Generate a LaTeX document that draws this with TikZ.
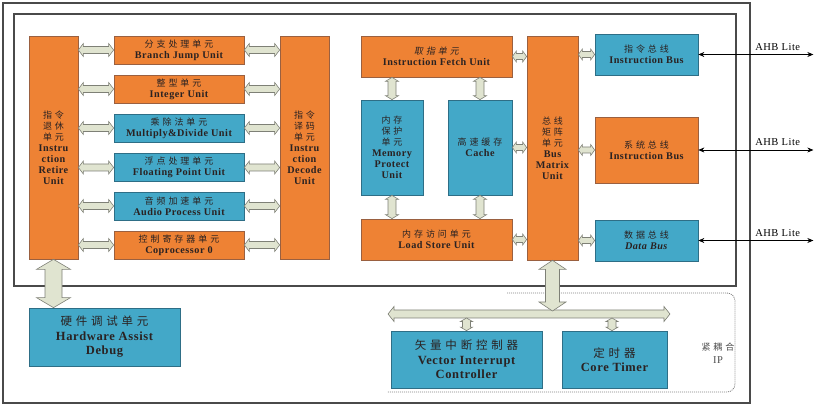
\documentclass[tikz,border=0pt]{standalone}
\usepackage{fontspec}
\setmainfont[LetterSpace=5]{Liberation Serif}
\newfontfamily\cjkfont[LetterSpace=33]{Noto Sans CJK SC}
\newfontfamily\cjkitfont[LetterSpace=33,FakeSlant=0.2]{Noto Sans CJK SC}
\usetikzlibrary{calc,arrows.meta}
\definecolor{ofill}{HTML}{EE8234}
\definecolor{obord}{HTML}{9A6040}
\definecolor{bfill}{HTML}{43A8C8}
\definecolor{bbord}{HTML}{2E6E86}
\definecolor{afill}{HTML}{E0E4D0}
\definecolor{aline}{HTML}{7E8076}
\definecolor{txt}{HTML}{2A2222}
\definecolor{frm}{HTML}{4A4A4A}
\newcommand\zh[1]{{\cjkfont\mdseries\fontsize{9}{11}\selectfont #1}}
\newcommand\zhi[1]{{\cjkitfont\mdseries\fontsize{9}{11}\selectfont #1}}
\newcommand\zhL[1]{{\cjkfont\mdseries\fontsize{11.5}{14}\selectfont #1}}
\newcommand\fatarrow[5]{%
  \coordinate (faA) at (#1);
  \coordinate (faB) at (#2);
  \coordinate (fa1) at ($(faA)!#3!(faB)$);
  \coordinate (fa2) at ($(faB)!#3!(faA)$);
  \draw[fatarr] (faA) -- ($(fa1)!#5!90:(faB)$) -- ($(fa1)!#4!90:(faB)$)
    -- ($(fa2)!#4!-90:(faA)$) -- ($(fa2)!#5!-90:(faA)$) -- (faB)
    -- ($(fa2)!#5!90:(faA)$) -- ($(fa2)!#4!90:(faA)$)
    -- ($(fa1)!#4!-90:(faB)$) -- ($(fa1)!#5!-90:(faB)$) -- cycle;
}
\tikzset{
  ob/.style={draw=obord, fill=ofill, line width=0.7pt, inner sep=1pt, align=center,
    text=txt, font=\fontsize{10.2}{11}\selectfont\bfseries},
  bb/.style={ob, draw=bbord, fill=bfill},
  big/.style={font=\fontsize{12.5}{14.5}\selectfont\bfseries},
  fatarr/.style={fill=afill, draw=aline, line width=0.6pt, line join=miter},
  ahb/.style={{Stealth[length=6pt,width=5pt]}-{Stealth[length=6pt,width=5pt]}, line width=0.6pt, black},
  ahblabel/.style={font=\fontsize{10.5}{12}\selectfont},
  frame/.style={draw=frm, line width=1.6pt},
  ipline/.style={draw=black!50, line width=0.8pt, dash pattern=on 1pt off 1pt, rounded corners=8pt},
}
\begin{document}
\begin{tikzpicture}[x=1pt,y=-1pt]
\useasboundingbox (0,0) rectangle (831,406);
% frames
\draw[frame] (3,3) rectangle (750,403);
\draw[frame, line width=1.3pt] (14,14) rectangle (736,286);
\draw[ipline] (507,293) -- (735,293) -- (735,392) -- (387,392);

% left core
\node[ob, minimum width=49pt, minimum height=223pt] (ret) at (53.5,147.5)
  {\zh{指令}\\\zh{退休}\\\zh{单元}\\Instru\\ction\\Retire\\Unit};
\node[ob, minimum width=49pt, minimum height=223pt] (dec) at (304.5,147.5)
  {\zh{指令}\\\zh{译码}\\\zh{单元}\\Instru\\ction\\Decode\\Unit};
\node[ob, minimum width=130pt, minimum height=28pt] (br) at (179,50) {\zh{分支处理单元}\\Branch Jump Unit};
\node[ob, minimum width=130pt, minimum height=28pt] (int) at (179,89) {\zh{整型单元}\\Integer Unit};
\node[bb, minimum width=130pt, minimum height=28pt] (mul) at (179,128) {\zh{乘除法单元}\\Multiply\&Divide Unit};
\node[bb, minimum width=130pt, minimum height=28pt] (fp) at (179,167.5) {\zh{浮点处理单元}\\Floating Point Unit};
\node[bb, minimum width=130pt, minimum height=28pt] (au) at (179,206) {\zh{音频加速单元}\\Audio Process Unit};
\node[ob, minimum width=130pt, minimum height=28pt] (cop) at (179,245) {\zh{控制寄存器单元}\\Coprocessor 0};

% memory side
\node[ob, minimum width=151pt, minimum height=41pt] (fetch) at (436.5,56.5) {\zhi{取指单元}\\Instruction Fetch Unit};
\node[bb, minimum width=62pt, minimum height=95pt] (mpu) at (392,147.5)
  {\zh{内存}\\\zh{保护}\\\zh{单元}\\Memory\\Protect\\Unit};
\node[bb, minimum width=64pt, minimum height=95pt] (cache) at (480,147.5) {\zh{高速缓存}\\Cache};
\node[ob, minimum width=151pt, minimum height=41pt] (lsu) at (436.5,239.5) {\zh{内存访问单元}\\Load Store Unit};
\node[ob, minimum width=51pt, minimum height=224pt] (bm) at (552.5,148)
  {\zh{总线}\\\zh{矩阵}\\\zh{单元}\\Bus\\Matrix\\Unit};
\node[bb, minimum width=103pt, minimum height=41pt] (ib) at (646.5,54.5) {\zh{指令总线}\\Instruction Bus};
\node[ob, minimum width=103pt, minimum height=66pt] (sb) at (646.5,150) {\zh{系统总线}\\Instruction Bus};
\node[bb, minimum width=103pt, minimum height=41pt] (db) at (646.5,240.5) {\zh{数据总线}\\\textit{Data Bus}};

% bottom
\node[bb, big, minimum width=151pt, minimum height=58pt] (hw) at (104.5,337) {\zhL{硬件调试单元}\\Hardware Assist\\Debug};
\node[bb, big, minimum width=151pt, minimum height=57pt] (vic) at (466.5,359.5) {\zhL{矢量中断控制器}\\Vector Interrupt\\Controller};
\node[bb, big, minimum width=105pt, minimum height=57pt] (ct) at (614.5,359.5) {\zhL{定时器}\\Core Timer};
\node[text=black!70, align=center, font=\fontsize{10.5}{13}\selectfont] (ip) at (718,353) {\zh{紧耦合}\\IP};

% arrows left core
\foreach \n in {br,int,mul,fp,au,cop}{
  \fatarrow{\n.west -| ret.east}{\n.west}{5pt}{3.5pt}{6.5pt}
  \fatarrow{\n.east}{\n.east -| dec.west}{5pt}{3.5pt}{6.5pt}
}
% memory side arrows
\fatarrow{mpu.north |- fetch.south}{mpu.north}{4pt}{4pt}{6.5pt}
\fatarrow{cache.north |- fetch.south}{cache.north}{4pt}{4pt}{6.5pt}
\fatarrow{mpu.south}{mpu.south |- lsu.north}{4pt}{4pt}{6.5pt}
\fatarrow{cache.south}{cache.south |- lsu.north}{4pt}{4pt}{6.5pt}
\fatarrow{fetch.east}{fetch.east -| bm.west}{4pt}{3pt}{5.5pt}
\fatarrow{cache.east}{cache.east -| bm.west}{4pt}{3pt}{5.5pt}
\fatarrow{lsu.east}{lsu.east -| bm.west}{4pt}{3pt}{5.5pt}
\fatarrow{ib.west -| bm.east}{ib.west}{4pt}{3pt}{5.5pt}
\fatarrow{sb.west -| bm.east}{sb.west}{4pt}{3pt}{5.5pt}
\fatarrow{db.west -| bm.east}{db.west}{4pt}{3pt}{5.5pt}

% bottom arrows
\fatarrow{ret.south}{ret.south |- hw.north}{10pt}{8.5pt}{17pt}
\coordinate (barL) at (388,314);
\coordinate (barR) at (670,314);
\fatarrow{barL}{barR}{6pt}{4pt}{7.5pt}
\coordinate (bartop) at (552.5,311);
\fatarrow{bm.south}{bartop}{9pt}{7pt}{13.5pt}
\coordinate (bb1) at (466.5,318);
\coordinate (bb2) at (612,318);
\fatarrow{bb1}{vic.north}{3.5pt}{4pt}{6pt}
\fatarrow{bb2}{bb2 |- ct.north}{3.5pt}{4pt}{6pt}

% AHB lite
\path (ib.east) ++(115,0) coordinate (a1);
\path (sb.east) ++(115,0) coordinate (a2);
\path (db.east) ++(115,0) coordinate (a3);
\draw[ahb] (ib.east) -- (a1) node[pos=0.69, above=0.5pt, ahblabel] {AHB Lite};
\draw[ahb] (sb.east) -- (a2) node[pos=0.69, above=0.5pt, ahblabel] {AHB Lite};
\draw[ahb] (db.east) -- (a3) node[pos=0.69, above=0.5pt, ahblabel] {AHB Lite};
\end{tikzpicture}
\end{document}
